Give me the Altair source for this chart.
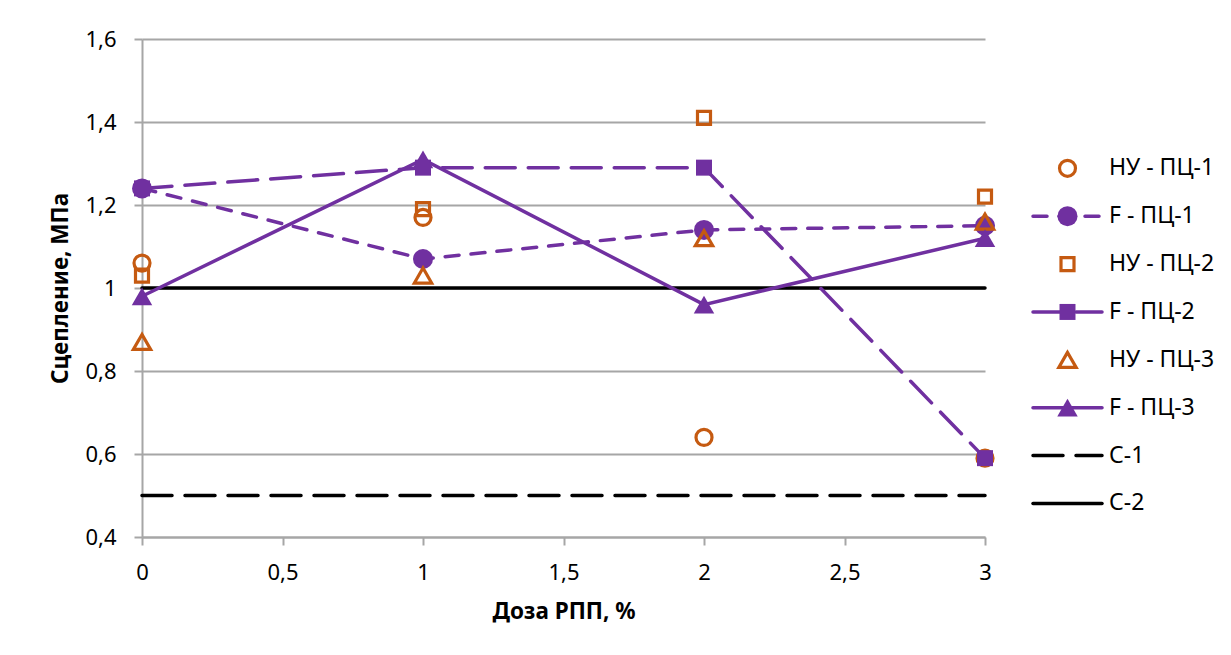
import altair as alt
import pandas as pd

# ---- data ----
doses = [0, 1, 2, 3]
nu_pc1 = [1.06, 1.17, 0.64, 0.59]
f_pc1 = [1.24, 1.07, 1.14, 1.15]
nu_pc2 = [1.03, 1.19, 1.41, 1.22]
f_pc2 = [1.24, 1.29, 1.29, 0.59]
nu_pc3 = [0.87, 1.03, 1.12, 1.16]
f_pc3 = [0.98, 1.31, 0.96, 1.12]
c_range = [0, 3]
c1 = [0.5, 0.5]
c2 = [1.0, 1.0]

names = ["НУ - ПЦ-1", "F - ПЦ-1", "НУ - ПЦ-2", "F - ПЦ-2",
         "НУ - ПЦ-3", "F - ПЦ-3", "С-1", "С-2"]
x_ticks = [0, 0.5, 1, 1.5, 2, 2.5, 3]
y_ticks = [0.4, 0.6, 0.8, 1.0, 1.2, 1.4, 1.6]

PURPLE = "#7030A0"
ORANGE = "#C55A11"
FONT = "Noto Sans"

series_x = {
    "НУ - ПЦ-1": doses, "F - ПЦ-1": doses, "НУ - ПЦ-2": doses, "F - ПЦ-2": doses,
    "НУ - ПЦ-3": doses, "F - ПЦ-3": doses, "С-1": c_range, "С-2": c_range,
}
series_y = {
    "НУ - ПЦ-1": nu_pc1, "F - ПЦ-1": f_pc1, "НУ - ПЦ-2": nu_pc2, "F - ПЦ-2": f_pc2,
    "НУ - ПЦ-3": nu_pc3, "F - ПЦ-3": f_pc3, "С-1": c1, "С-2": c2,
}
# style: color, line dash (None = no line, [] = solid), shape, filled, size
styles = {
    "НУ - ПЦ-1": dict(color=ORANGE, dash=None, shape="circle", filled=False, size=256),
    "F - ПЦ-1": dict(color=PURPLE, dash=[14, 12], shape="circle", filled=True, size=400),
    "НУ - ПЦ-2": dict(color=ORANGE, dash=None, shape="square", filled=False, size=169),
    "F - ПЦ-2": dict(color=PURPLE, dash=[30, 13], shape="square", filled=True, size=256),
    "НУ - ПЦ-3": dict(color=ORANGE, dash=None, shape="triangle-up", filled=False, size=300),
    "F - ПЦ-3": dict(color=PURPLE, dash=[], shape="triangle-up", filled=True, size=420),
    "С-1": dict(color="black", dash=[30, 13], shape=None, filled=False, size=0),
    "С-2": dict(color="black", dash=[], shape=None, filled=False, size=0),
}
draw_order = ["С-1", "С-2", "НУ - ПЦ-1", "F - ПЦ-1", "НУ - ПЦ-2",
              "F - ПЦ-2", "НУ - ПЦ-3", "F - ПЦ-3"]

comma = "replace(format(datum.value, '.1~f'), '.', ',')"
GRID = "#A6A6A6"

x_scale = alt.Scale(domain=[0, 3], nice=False, zero=False)
y_scale = alt.Scale(domain=[0.4, 1.6], nice=False, zero=False)
x_axis = alt.Axis(values=x_ticks, labelExpr=comma, title="Доза РПП, %", grid=False,
                  domain=True, domainColor=GRID, domainWidth=2,
                  ticks=True, tickColor=GRID, tickSize=8, tickWidth=2,
                  labelPadding=17, labelFontSize=22, labelFont=FONT, labelColor="black",
                  labelFlush=False,
                  titleFont=FONT, titleFontSize=22.5, titleFontWeight="bold",
                  titleColor="black", titlePadding=17)
y_axis = alt.Axis(values=y_ticks, labelExpr=comma, title="Сцепление, МПа", grid=True,
                  gridColor=GRID, gridWidth=2,
                  domain=True, domainColor=GRID, domainWidth=2,
                  ticks=True, tickColor=GRID, tickSize=8, tickWidth=2,
                  labelPadding=18, labelFontSize=22, labelFont=FONT, labelColor="black",
                  labelFlush=False,
                  titleFont=FONT, titleFontSize=22.5, titleFontWeight="bold",
                  titleColor="black", titlePadding=12)

enc_x = alt.X("dose:Q", scale=x_scale, axis=x_axis)
enc_y = alt.Y("val:Q", scale=y_scale, axis=y_axis)

layers = []
for name in draw_order:
    st = styles[name]
    df = pd.DataFrame({"dose": series_x[name], "val": series_y[name], "series": name})
    if st["dash"] is not None:
        kw = dict(color=st["color"], strokeWidth=3.5, strokeCap="round")
        if st["dash"]:
            kw["strokeDash"] = st["dash"]
        layers.append(alt.Chart(df).mark_line(**kw).encode(x=enc_x, y=enc_y))
    if st["shape"] is not None:
        kw = dict(shape=st["shape"], size=st["size"], filled=st["filled"],
                  color=st["color"], opacity=1, strokeWidth=3.2)
        layers.append(alt.Chart(df).mark_point(**kw).encode(x=enc_x, y=enc_y))

main = alt.layer(*layers).properties(width=843, height=498)

# ---- legend panel ----
leg_x = alt.Scale(domain=[0, 1], nice=False, zero=False)
leg_y = alt.Scale(domain=[-2.70, 7.70], nice=False, zero=False, reverse=True)
lx = alt.X("x0:Q", scale=leg_x, axis=None)
ly = alt.Y("idx:Q", scale=leg_y, axis=None)
leg_layers = []
for i, name in enumerate(names):
    st = styles[name]
    row = pd.DataFrame({"idx": [i], "x0": [0.0], "x1": [1.0], "xm": [0.5], "label": [name]})
    if st["dash"] is not None:
        kw = dict(color=st["color"], strokeWidth=3.5, strokeCap="round")
        if st["dash"]:
            kw["strokeDash"] = st["dash"]
        leg_layers.append(alt.Chart(row).mark_rule(**kw).encode(x=lx, x2="x1:Q", y=ly))
    if st["shape"] is not None:
        kw = dict(shape=st["shape"], size=st["size"], filled=st["filled"],
                  color=st["color"], opacity=1, strokeWidth=3.2)
        leg_layers.append(alt.Chart(row).mark_point(**kw).encode(
            x=alt.X("xm:Q", scale=leg_x, axis=None), y=ly))
    leg_layers.append(alt.Chart(row).mark_text(
        align="left", baseline="middle", dx=7, fontSize=23, font=FONT, color="black"
    ).encode(x=alt.X("x1:Q", scale=leg_x, axis=None), y=ly, text="label:N"))

legend = alt.layer(*leg_layers).properties(width=69, height=498)

chart = alt.hconcat(main, legend, spacing=48, bounds="flush").properties(
    padding={"left": 41, "top": 20, "right": 5, "bottom": 5}
).configure(background="white").configure_view(stroke=None)

chart.save("out.html", embed_options={"renderer": "svg", "actions": False})
